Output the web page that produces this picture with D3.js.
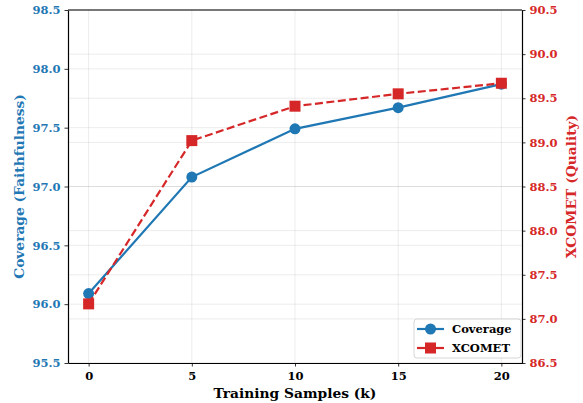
<!DOCTYPE html>
<html><head><meta charset="utf-8">
<script src="https://cdn.jsdelivr.net/npm/d3@7"></script>
<style>body{margin:0;background:#fff}</style>
</head><body>
<svg id="c" width="583" height="403"></svg>
<script>
const samples = [0, 5, 10, 15, 20];
const coverage = [96.09, 97.08, 97.49, 97.67, 97.87];
const xcomet = [87.17, 89.02, 89.41, 89.55, 89.67];
const xTicks = [0, 5, 10, 15, 20];
const leftTicks = [95.5, 96.0, 96.5, 97.0, 97.5, 98.0, 98.5];
const rightTicks = [86.5, 87.0, 87.5, 88.0, 88.5, 89.0, 89.5, 90.0, 90.5];

const blue = "#1f77b4", red = "#d62728";
const font = "DejaVu Serif";
const m = {l: 68, r: 522, t: 10, b: 363};
const svg = d3.select("#c");

const x = d3.scaleLinear().domain([-1, 21]).range([m.l, m.r]);
const yL = d3.scaleLinear().domain([95.5, 98.5]).range([m.b, m.t]);
const yR = d3.scaleLinear().domain([86.5, 90.5]).range([m.b, m.t]);

// grids
const g = svg.append("g");
g.selectAll(".gx").data(xTicks).join("line")
  .attr("x1", d => x(d)).attr("x2", d => x(d)).attr("y1", m.t).attr("y2", m.b)
  .attr("stroke", "#b0b0b0").attr("stroke-opacity", 0.3).attr("stroke-width", 0.8);
g.selectAll(".gl").data(leftTicks).join("line")
  .attr("x1", m.l).attr("x2", m.r).attr("y1", d => yL(d)).attr("y2", d => yL(d))
  .attr("stroke", "#b0b0b0").attr("stroke-opacity", 0.3).attr("stroke-width", 0.8);
g.selectAll(".gr").data(rightTicks).join("line")
  .attr("x1", m.l).attr("x2", m.r).attr("y1", d => yR(d)).attr("y2", d => yR(d))
  .attr("stroke", "#b0b0b0").attr("stroke-opacity", 0.3).attr("stroke-width", 0.8);

// axes
function styleAxis(sel, color) {
  sel.selectAll("path").attr("stroke", "#000").attr("stroke-width", 1.2);
  sel.selectAll(".tick line").attr("stroke", "#000").attr("stroke-width", 0.8);
  sel.selectAll("text").attr("font-family", font).attr("font-weight", "bold")
    .attr("font-size", 11.5).attr("fill", color);
}
const ax = svg.append("g").attr("transform", `translate(0,${m.b})`)
  .call(d3.axisBottom(x).tickValues(xTicks).tickFormat(d3.format("d")).tickSize(3.5).tickPadding(5).tickSizeOuter(0));
styleAxis(ax, "#000");
const al = svg.append("g").attr("transform", `translate(${m.l},0)`)
  .call(d3.axisLeft(yL).tickValues(leftTicks).tickFormat(d3.format(".1f")).tickSize(3.5).tickPadding(4).tickSizeOuter(0));
styleAxis(al, blue);
const ar = svg.append("g").attr("transform", `translate(${m.r},0)`)
  .call(d3.axisRight(yR).tickValues(rightTicks).tickFormat(d3.format(".1f")).tickSize(3.5).tickPadding(4).tickSizeOuter(0));
styleAxis(ar, red);
svg.append("line").attr("x1", m.l).attr("x2", m.r).attr("y1", m.t).attr("y2", m.t)
  .attr("stroke", "#000").attr("stroke-width", 1.2);

// lines
const lineL = d3.line().x((d, i) => x(samples[i])).y(d => yL(d));
const lineR = d3.line().x((d, i) => x(samples[i])).y(d => yR(d));
svg.append("path").attr("d", lineL(coverage)).attr("fill", "none")
  .attr("stroke", blue).attr("stroke-width", 2.2);
svg.selectAll(".cp").data(coverage).join("circle")
  .attr("cx", (d, i) => x(samples[i])).attr("cy", d => yL(d)).attr("r", 5.5).attr("fill", blue);
svg.append("path").attr("d", lineR(xcomet)).attr("fill", "none")
  .attr("stroke", red).attr("stroke-width", 2.2).attr("stroke-dasharray", "8,3.5");
svg.selectAll(".xp").data(xcomet).join("rect")
  .attr("x", (d, i) => x(samples[i]) - 5.5).attr("y", d => yR(d) - 5.5)
  .attr("width", 11).attr("height", 11).attr("fill", red);

// labels
svg.append("text").attr("x", (m.l + m.r) / 2).attr("y", 398).attr("text-anchor", "middle")
  .attr("font-family", font).attr("font-weight", "bold").attr("font-size", 13.8).text("Training Samples (k)");
svg.append("text").attr("transform", `translate(24,${(m.t + m.b) / 2}) rotate(-90)`)
  .attr("text-anchor", "middle").attr("font-family", font).attr("font-weight", "bold")
  .attr("font-size", 13.8).attr("fill", blue).text("Coverage (Faithfulness)");
svg.append("text").attr("transform", `translate(576,${(m.t + m.b) / 2}) rotate(-90)`)
  .attr("text-anchor", "middle").attr("font-family", font).attr("font-weight", "bold")
  .attr("font-size", 13.8).attr("fill", red).text("XCOMET (Quality)");

// legend
const lg = svg.append("g").attr("transform", "translate(414,319)");
lg.append("rect").attr("width", 107).attr("height", 39).attr("rx", 3)
  .attr("fill", "#fff").attr("fill-opacity", 0.8).attr("stroke", "#ccc").attr("stroke-width", 0.8);
const items = [{name: "Coverage", c: blue, shape: "c"}, {name: "XCOMET", c: red, shape: "s"}];
items.forEach((it, i) => {
  const yy = 10 + i * 19;
  lg.append("line").attr("x1", 3).attr("x2", 30).attr("y1", yy).attr("y2", yy)
    .attr("stroke", it.c).attr("stroke-width", 2.2);
  if (it.shape === "c") lg.append("circle").attr("cx", 16.5).attr("cy", yy).attr("r", 5.5).attr("fill", it.c);
  else lg.append("rect").attr("x", 11).attr("y", yy - 5.5).attr("width", 11).attr("height", 11).attr("fill", it.c);
  lg.append("text").attr("x", 38).attr("y", yy + 4).attr("font-family", font).attr("font-weight", "bold")
    .attr("font-size", 11.5).text(it.name);
});
</script>
</body></html>
